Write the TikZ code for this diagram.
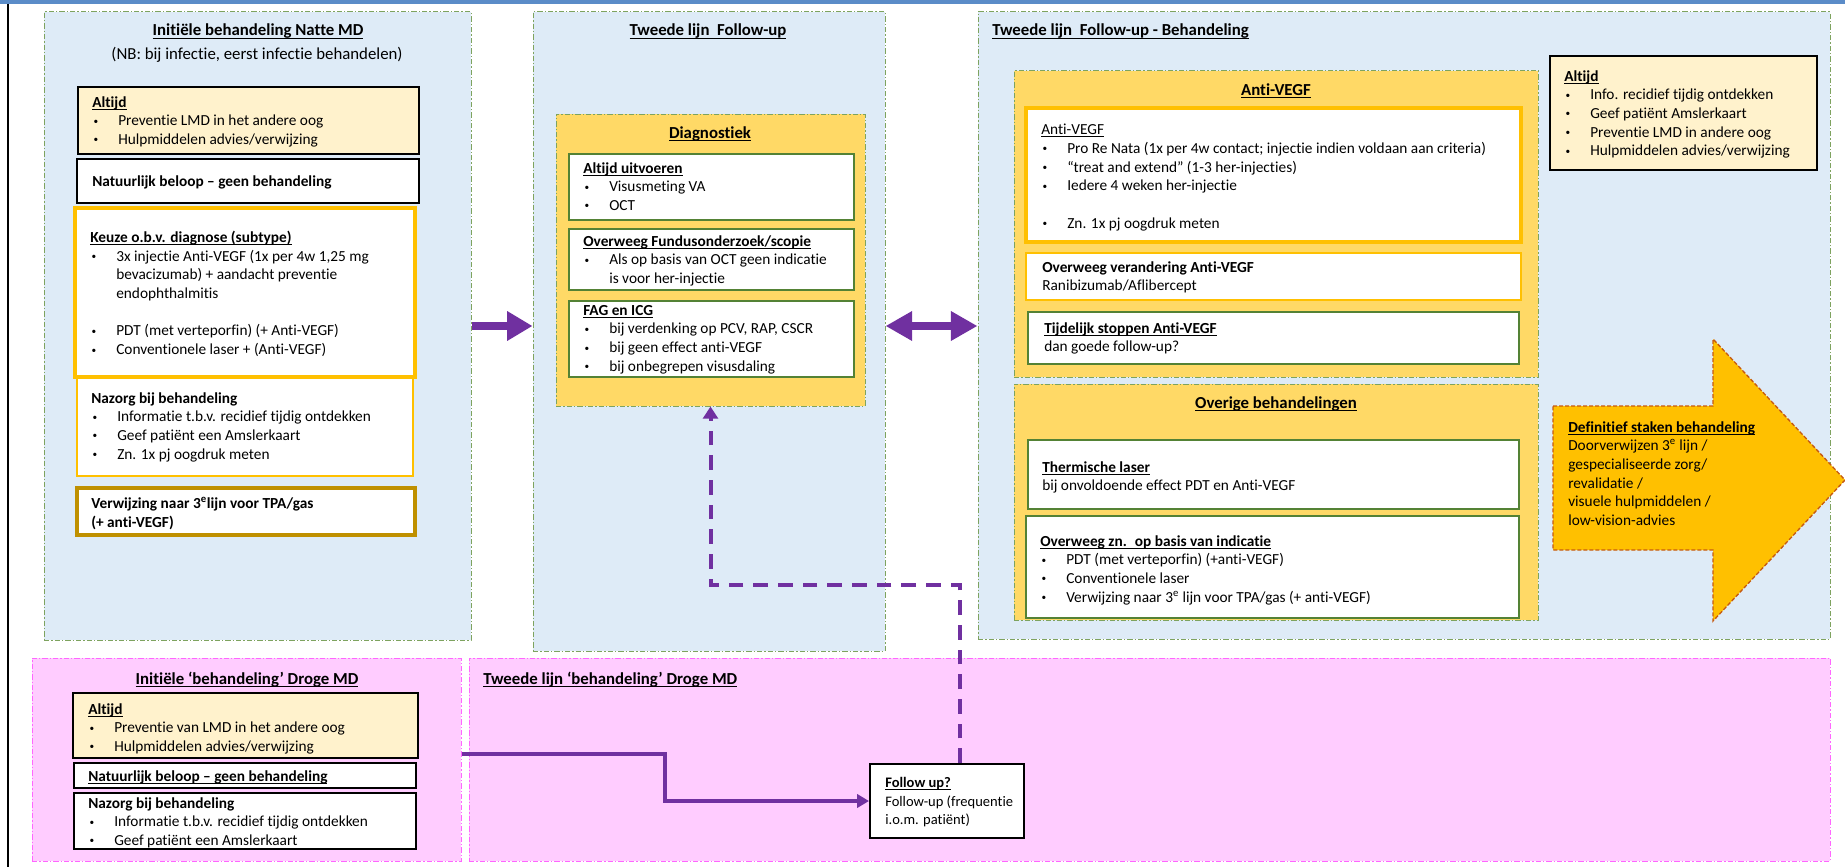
\documentclass[tikz,border=0pt]{standalone}
\usepackage{fontspec}
\setmainfont{Carlito}[Ligatures={TeX,NoCommon}]
\usepackage{xcolor}
\usetikzlibrary{fit,arrows.meta}

\definecolor{cPanBlue}{HTML}{DEEBF7}
\definecolor{cPanLine}{HTML}{7EA35F}
\definecolor{cPink}{HTML}{FFCCFF}
\definecolor{cPinkLine}{HTML}{FF66FF}
\definecolor{cYlw}{HTML}{FFD966}
\definecolor{cLtYlw}{HTML}{FFF2CC}
\definecolor{cOrng}{HTML}{FFC000}
\definecolor{cGoldB}{HTML}{BF9000}
\definecolor{cGrn}{HTML}{548235}
\definecolor{cPrpl}{HTML}{7030A0}
\definecolor{cBrwn}{HTML}{C55A11}
\definecolor{cTopBar}{HTML}{5B8CC8}

\newcommand{\bodyf}{\fontsize{11.5}{14}\selectfont}
\newcommand{\ttlf}{\fontsize{12.6}{15}\selectfont}
\newlength{\kopw}
\newcommand{\ond}[1]{\settowidth{\kopw}{#1}#1\hspace{-\kopw}\rule[-1.8pt]{\kopw}{0.55pt}}
\newcommand{\kop}[1]{\ond{\textbf{#1}}}
\newcommand{\bulx}{\makebox[19.5pt][l]{\hspace{1pt}\raisebox{1.2pt}{\fontsize{7}{7}\selectfont\textbullet}}}
\newcommand{\indx}{\hspace*{19.5pt}}

\begin{document}
\begin{tikzpicture}[x=0.75pt, y=-0.75pt,
	bx/.style={inner sep=0pt},
	dashdot/.style={line width=0.75pt, dash pattern=on 4pt off 1.5pt on 1pt off 1.5pt},
	pnlblue/.style={bx, fill=cPanBlue, draw=cPanLine, dashdot},
	pnlpink/.style={bx, fill=cPink, draw=cPinkLine, dashdot},
	ylwbox/.style={bx, fill=cYlw, draw=cPanLine, dashdot},
	blkbox/.style={bx, fill=white, draw=black, line width=1.5pt},
	orbox/.style={bx, fill=white, draw=cOrng, line width=3pt},
	orthin/.style={bx, fill=white, draw=cOrng, line width=1.5pt},
	gldbox/.style={bx, fill=white, draw=cGoldB, line width=3pt},
	grnbox/.style={bx, fill=white, draw=cGrn, line width=1.5pt},
	txt/.style={anchor=north west, inner sep=0pt, align=left, font=\bodyf},
	ttl/.style={inner sep=0pt, font=\ttlf},
	prline/.style={draw=cPrpl}]

\useasboundingbox (0,0) rectangle (1845,867);

% frame
\fill[cTopBar] (0,0) rectangle (1845,4);
\draw[line width=1pt] (8,4) -- (8,867);

% panels
\node[pnlblue, fit={(44,12) (471,640)}] (nat1) {};
\node[pnlblue, fit={(533,12) (885,651)}] (nat2) {};
\node[pnlblue, fit={(978,12) (1830,639)}] (nat3) {};
\node[pnlpink, fit={(32,658) (461,861)}] (dro1) {};
\node[pnlpink, fit={(469,658) (1830,861)}] (dro2) {};

% panel titles
\node[ttl, anchor=base] (nat1t) at (258,36) {\kop{Initiële behandeling Natte MD}};
\node[ttl, anchor=base] (nat1nb) at (257,60) {(NB: bij infectie, eerst infectie behandelen)};
\node[ttl, anchor=base] (nat2t) at (708,36) {\kop{Tweede lijn \ Follow-up}};
\node[ttl, anchor=base west] (nat3t) at (992,36) {\kop{Tweede lijn \ Follow-up - Behandeling}};
\node[ttl, anchor=base] (dro1t) at (247,684) {\kop{Initiële ‘behandeling’ Droge MD}};
\node[ttl, anchor=base west] (dro2t) at (483,684) {\kop{Tweede lijn ‘behandeling’ Droge MD}};

% initiele behandeling natte MD
\node[blkbox, fill=cLtYlw, fit={(78,87) (419,154)}] (alt1) {};
\node[txt] (alt1t) at (92,96) {\kop{Altijd}\\ \bulx Preventie LMD in het andere oog\\ \bulx Hulpmiddelen advies/verwijzing};
\node[blkbox, fit={(77,159) (419,203)}] (bel1) {};
\node[txt] (bel1t) at (92,175) {\textbf{Natuurlijk beloop – geen behandeling}};
\node[orthin, fit={(77,377) (413,476)}] (naz1) {};
\node[orbox, fit={(75,208) (415,377)}] (keuze) {};
\node[txt] (keuzet) at (90,231) {\kop{Keuze o.b.v. diagnose (subtype)}\\
	\bulx 3x injectie Anti-VEGF (1x per 4w 1,25 mg\\ \indx bevacizumab) + aandacht preventie\\ \indx endophthalmitis\\ \\
	\bulx PDT (met verteporfin) (+ Anti-VEGF)\\ \bulx Conventionele laser + (Anti-VEGF)};
\node[txt] (naz1t) at (91,392) {\textbf{Nazorg bij behandeling}\\ \bulx Informatie t.b.v. recidief tijdig ontdekken\\
	\bulx Geef patiënt een Amslerkaart\\ \bulx Zn. 1x pj oogdruk meten};
\node[gldbox, fit={(77,488) (415,535)}] (verw1) {};
\node[txt] (verw1t) at (91,497) {\textbf{Verwijzing naar 3\textsuperscript{e}lijn voor TPA/gas}\\ \textbf{(+ anti-VEGF)}};

% tweede lijn follow-up
\node[ylwbox, fit={(556,114) (865,406)}] (diag) {};
\node[ttl, anchor=base] (diagt) at (710,138) {\kop{Diagnostiek}};
\node[grnbox, fit={(569,154) (854,220)}] (uitv) {};
\node[txt] (uitvt) at (583,162) {\kop{Altijd uitvoeren}\\ \bulx Visusmeting VA\\ \bulx OCT};
\node[grnbox, fit={(569,229) (854,290)}] (fund) {};
\node[txt] (fundt) at (583,235) {\kop{Overweeg Fundusonderzoek/scopie}\\ \bulx Als op basis van OCT geen indicatie\\ \indx is voor her-injectie};
\node[grnbox, fit={(569,301) (854,377)}] (fag) {};
\node[txt] (fagt) at (583,305) {\kop{FAG en ICG}\\ \bulx bij verdenking op PCV, RAP, CSCR\\ \bulx bij geen effect anti-VEGF\\ \bulx bij onbegrepen visusdaling};

% tweede lijn behandeling
\node[ylwbox, fit={(1014,71) (1538,377)}] (avgf) {};
\node[ttl, anchor=base] (avgft) at (1276,95) {\kop{Anti-VEGF}};
\node[orbox, fit={(1026,108) (1521,242)}] (avgf1) {};
\node[txt] (avgf1t) at (1041,124) {\ond{Anti-VEGF}\\ \bulx Pro Re Nata (1x per 4w contact; injectie indien voldaan aan criteria)\\
	\bulx “treat and extend” (1-3 her-injecties)\\ \bulx Iedere 4 weken her-injectie\\ \\ \bulx Zn. 1x pj oogdruk meten};
\node[orthin, fit={(1026,253) (1521,300)}] (avgf2) {};
\node[txt] (avgf2t) at (1042,261) {\textbf{Overweeg verandering Anti-VEGF}\\ Ranibizumab/Aflibercept};
\node[grnbox, fit={(1028,312) (1519,364)}] (avgf3) {};
\node[txt] (avgf3t) at (1044,322) {\kop{Tijdelijk stoppen Anti-VEGF}\\ dan goede follow-up?};

\node[ylwbox, fit={(1014,384) (1538,620)}] (overig) {};
\node[ttl, anchor=base] (overigt) at (1276,408) {\kop{Overige behandelingen}};
\node[grnbox, fit={(1028,440) (1519,509)}] (therm) {};
\node[txt] (thermt) at (1042,461) {\kop{Thermische laser}\\ bij onvoldoende effect PDT en Anti-VEGF};
\node[grnbox, fit={(1026,516) (1519,618)}] (ovzn) {};
\node[txt] (ovznt) at (1040,535) {\kop{Overweeg zn. \ op basis van indicatie}\\ \bulx PDT (met verteporfin) (+anti-VEGF)\\
	\bulx Conventionele laser\\ \bulx Verwijzing naar 3\textsuperscript{e} lijn voor TPA/gas (+ anti-VEGF)};

\node[blkbox, fill=cLtYlw, fit={(1550,56) (1817,170)}] (alt3) {};
\node[txt] (alt3t) at (1564,70) {\kop{Altijd}\\ \bulx Info. recidief tijdig ontdekken\\ \bulx Geef patiënt Amslerkaart\\
	\bulx Preventie LMD in andere oog\\ \bulx Hulpmiddelen advies/verwijzing};

% stop arrow
\draw[fill=cOrng, draw=cBrwn, line width=1pt, dash pattern=on 3pt off 1.5pt]
	(1553,406) -- (1713,406) -- (1713,339) -- (1845,480) -- (1713,621) -- (1713,550) -- (1553,550) -- cycle;
\node[txt] (stopt) at (1568,421) {\kop{Definitief staken behandeling}\\ Doorverwijzen 3\textsuperscript{e} lijn /\\
	gespecialiseerde zorg/\\ revalidatie /\\ visuele hulpmiddelen /\\ low-vision-advies};

% droge MD
\node[blkbox, fill=cLtYlw, fit={(73,693) (418,758)}] (alt4) {};
\node[txt] (alt4t) at (88,703) {\kop{Altijd}\\ \bulx Preventie van LMD in het andere oog\\ \bulx Hulpmiddelen advies/verwijzing};
\node[blkbox, fit={(74,763) (416,788)}] (bel4) {};
\node[txt] (bel4t) at (88,770) {\kop{Natuurlijk beloop – geen behandeling}};
\node[blkbox, fit={(74,793) (416,849)}] (naz4) {};
\node[txt] (naz4t) at (88,797) {\textbf{Nazorg bij behandeling}\\ \bulx Informatie t.b.v. recidief tijdig ontdekken\\ \bulx Geef patiënt een Amslerkaart};
\node[blkbox, fit={(870,764) (1024,838)}] (fup) {};
\node[txt, font=\fontsize{10.9}{14}\selectfont] (fupt) at (885,777) {\kop{Follow up?}\\ Follow-up (frequentie\\ i.o.m. patiënt)};

% connectors
\coordinate (dturn) at (960,585);
\coordinate (sbend) at (665,754);
\draw[prline, line width=6pt, -{Triangle[length=19pt,width=21pt]}] (nat1.east) -- (nat1.east -| nat2.west);
\draw[prline, line width=6pt, {Triangle[length=20pt,width=21pt]}-{Triangle[length=20pt,width=21pt]}]
	(nat1.east -| nat2.east) -- (nat1.east -| nat3.west);
\draw[prline, line width=3pt, dash pattern=on 11pt off 7.5pt, -{Triangle[length=9pt,width=11pt]}]
	(fup.north -| dturn) -- (dturn) -- (dturn -| diag.south) -- (diag.south);
\draw[prline, line width=3pt, -{Triangle[length=9pt,width=10pt]}]
	(dro1.east |- sbend) -- (sbend) -- (sbend |- fup.west) -- (fup.west);

\end{tikzpicture}
\end{document}
